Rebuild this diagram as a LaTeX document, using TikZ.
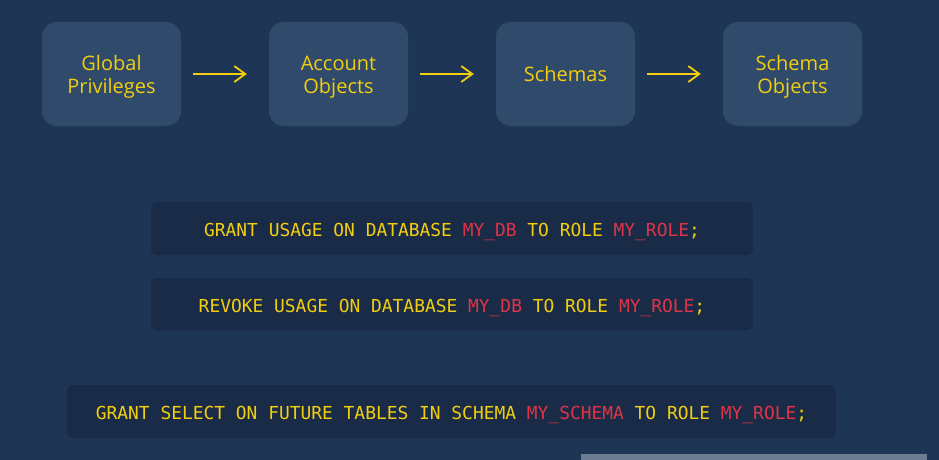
\documentclass[tikz,border=0pt]{standalone}
\usepackage{fontspec}
\setmainfont{Open Sans}
\newfontfamily\codefont{DejaVu Sans Mono}
\usepackage{xcolor}
\usetikzlibrary{arrows.meta}
\definecolor{bgblue}{HTML}{1F3556}
\definecolor{boxblue}{HTML}{2F4A6A}
\definecolor{codeblue}{HTML}{1A2B47}
\definecolor{keyyellow}{HTML}{F2CE0F}
\definecolor{namered}{HTML}{DF3447}
\definecolor{bargray}{HTML}{6E7E92}
\newcommand{\nm}[1]{\textcolor{namered}{#1}}
\newcommand{\twolines}[2]{\raisebox{0pt}[\dimexpr\height+6pt\relax][\depth]{\begin{tabular}{@{}c@{}}#1\\#2\end{tabular}}}
\tikzset{
  levelbox/.style={fill=boxblue, rounded corners=15pt, minimum width=139pt,
    minimum height=104pt, text=keyyellow,
    font=\fontsize{20}{23}\selectfont},
  codebox/.style={fill=codeblue, rounded corners=6pt, minimum height=53pt,
    text=keyyellow, text height=16pt, text depth=0pt,
    font=\codefont\fontsize{17.9}{20}\selectfont},
  levelarrow/.style={draw=keyyellow, line width=1.8pt,
    -{Straight Barb[length=11pt,width=16pt]}, shorten <=12pt, shorten >=22pt}
}
\begin{document}
\begin{tikzpicture}[x=1pt,y=-1pt]
\fill[bgblue] (0,0) rectangle (939,460);
\useasboundingbox (0,0) rectangle (939,460);
% privilege levels
\node[levelbox] (global) at (111.5,74) {\twolines{Global}{Privileges}};
\node[levelbox] (account) at (338.5,74) {\twolines{Account}{Objects}};
\node[levelbox] (schemas) at (565.5,74) {Schemas};
\node[levelbox] (schemaobj) at (792.5,74) {\twolines{Schema}{Objects}};
\foreach \a/\b in {global/account,account/schemas,schemas/schemaobj}{
  \draw[levelarrow] (\a.east) -- (\b.west);
}
% statements
\node[codebox, minimum width=602pt] (grant) at (452,228.5)
  {GRANT USAGE ON DATABASE \nm{MY\_DB} TO ROLE \nm{MY\_ROLE};};
\node[codebox, minimum width=602pt, minimum height=52pt] (revoke) at (452,304)
  {REVOKE USAGE ON DATABASE \nm{MY\_DB} TO ROLE \nm{MY\_ROLE};};
\node[codebox, minimum width=769pt] (future) at (451.5,411.5)
  {GRANT SELECT ON FUTURE TABLES IN SCHEMA \nm{MY\_SCHEMA} TO ROLE \nm{MY\_ROLE};};
\fill[bargray] (581,454) rectangle (927,460);
\end{tikzpicture}
\end{document}
